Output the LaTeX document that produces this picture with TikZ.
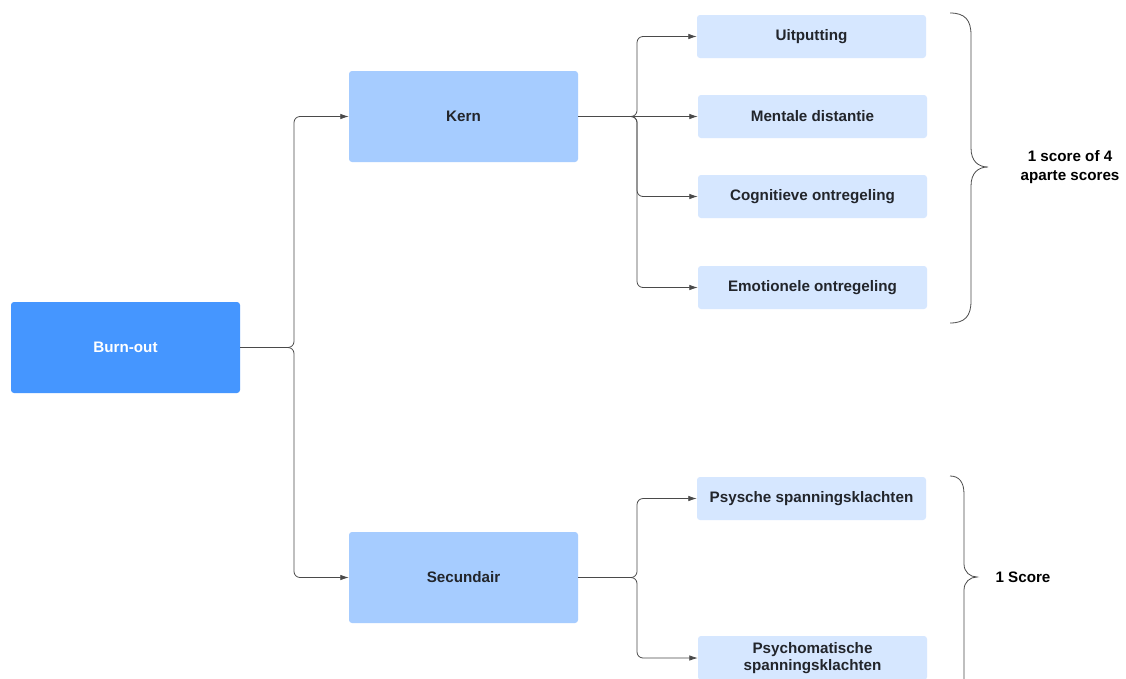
\documentclass[tikz,border=0pt]{standalone}
\usepackage{fontspec}
\setmainfont{Liberation Sans}
\usetikzlibrary{arrows.meta}
\definecolor{rootblue}{HTML}{4596FF}
\definecolor{midblue}{HTML}{A6CCFF}
\definecolor{leafblue}{HTML}{D6E7FF}
\definecolor{txt}{HTML}{22252B}
\definecolor{linec}{HTML}{4A4A4A}
\tikzset{
  box/.style={rounded corners=3pt, draw=none, align=center, inner sep=0pt,
    font=\fontsize{15.2}{17.5}\selectfont\bfseries, text=txt},
  rootbox/.style={box, fill=rootblue, text=white, minimum width=229pt, minimum height=91pt},
  midbox/.style={box, fill=midblue, minimum width=229pt, minimum height=91pt},
  leafbox/.style={box, fill=leafblue, minimum width=229pt, minimum height=43pt},
  conn/.style={draw=linec, line width=0.8pt, rounded corners=6pt},
  arr/.style={conn, -{Latex[length=8.5pt,width=5.5pt]}},
  brace/.style={draw=linec, line width=0.8pt},
  lbl/.style={align=center, font=\fontsize{15.2}{18.5}\selectfont\bfseries, text=black}
}
\begin{document}
\begin{tikzpicture}[x=1pt,y=-1pt]
\useasboundingbox[fill=white] (0,0) rectangle (1126,678);

\node[rootbox] (burn) at (125.5,347.5) {Burn-out};
\node[midbox] (kern) at (463.5,116.5) {Kern};
\node[midbox] (sec) at (463.5,577.5) {Secundair};

\node[leafbox] (uit) at (811.5,36.5) {Uitputting};
\node[leafbox] (men) at (812.5,116.5) {Mentale distantie};
\node[leafbox] (cog) at (812.5,196.5) {Cognitieve ontregeling};
\node[leafbox] (emo) at (812.5,287.5) {Emotionele ontregeling};
\node[leafbox] (psy) at (811.5,498.5) {Psysche spanningsklachten};
\node[leafbox, minimum height=44pt] (psm) at (812.5,658) {Psychomatische\\spanningsklachten};

\coordinate (j0) at (294,347.5);
\coordinate (j1) at (637,116.5);
\coordinate (j2) at (637,577.5);

\draw[arr] (burn.east) -- (j0) |- (kern.west);
\draw[arr] (burn.east) -- (j0) |- (sec.west);

\draw[arr] (kern.east) -- (j1) |- (uit.west);
\draw[arr] (kern.east) -- (men.west);
\draw[arr] (kern.east) -- (j1) |- (cog.west);
\draw[arr] (kern.east) -- (j1) |- (emo.west);

\draw[arr] (sec.east) -- (j2) |- (psy.west);
\draw[arr] (sec.east) -- (j2) |- (psm.west);

% braces
\draw[brace] (950,13) .. controls (965,13) and (971,20) .. (971,35) -- (971,148)
  .. controls (971,161) and (978,167) .. (988,167)
  .. controls (978,167) and (971,173) .. (971,186) -- (971,301)
  .. controls (971,316) and (965,323) .. (950,323);
\node[lbl] (s1) at (1070,167) {1 score of 4\\aparte scores};

\draw[brace] (950,476) .. controls (959,476) and (964,482) .. (964,494) -- (964,564)
  .. controls (964,572) and (970,577) .. (977,577)
  .. controls (970,577) and (964,582) .. (964,590) -- (964,682);
\node[lbl, anchor=west] (s2) at (992,577) {1 Score};
\end{tikzpicture}
\end{document}
